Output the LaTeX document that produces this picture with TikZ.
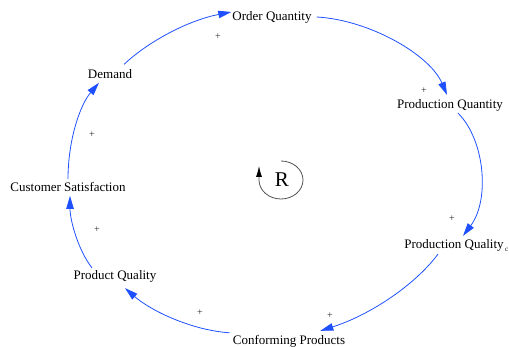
\documentclass[tikz,border=0pt]{standalone}
\usepackage{fontspec}
\setmainfont{Liberation Serif}
\usetikzlibrary{arrows.meta}
\definecolor{flowblue}{RGB}{30,80,255}
\definecolor{loopgray}{RGB}{80,80,80}
\begin{document}
\begin{tikzpicture}[x=1pt,y=-1pt,
  lab/.style={font=\fontsize{13}{15}\selectfont, inner sep=0pt},
  pl/.style={font=\fontsize{10}{11}\selectfont, inner sep=0pt, text=black!85},
  flow/.style={draw=flowblue, line width=0.8pt, -{Triangle[length=13pt,width=7.5pt]}},
  loop/.style={draw=loopgray, line width=0.8pt, -{Latex[length=11pt,width=6pt,black]}}
]
\path[use as bounding box] (0,0) rectangle (509,347);

% variables
\node[lab] (oq)  at (272,17)  {Order Quantity};
\node[lab] (pq)  at (450,105) {Production Quantity};
\node[lab] (pql) at (454,245) {Production Quality};
\node[font=\fontsize{7}{8}\selectfont, inner sep=0pt, anchor=west] (sub) at ([xshift=1pt,yshift=-5pt]pql.east) {c};
\node[lab] (cp)  at (289,341) {Conforming Products};
\node[lab] (prq) at (115,276) {Product Quality};
\node[lab] (cs)  at (68,187)  {Customer Satisfaction};
\node[lab] (dm)  at (110,74)  {Demand};
\node[font=\fontsize{21}{23}\selectfont, inner sep=0pt] (r) at (282,180) {R};

% polarities
\node[pl] (p1) at (218,37)  {+};
\node[pl] (p2) at (424,91)  {+};
\node[pl] (p3) at (452,219) {+};
\node[pl] (p4) at (330,316) {+};
\node[pl] (p5) at (200,313) {+};
\node[pl] (p6) at (97,230)  {+};
\node[pl] (p7) at (92,135)  {+};

% links
\draw[flow] ([xshift=5pt]oq.east) .. controls (370,20) and (430,55) .. ([xshift=-3pt,yshift=4pt]pq.north);
\draw[flow] ([xshift=8pt,yshift=-2pt]pq.south) .. controls (485,140) and (490,200) .. ([xshift=9pt,yshift=3pt]pql.north);
\draw[flow] ([xshift=-16pt,yshift=-3pt]pql.south) .. controls (415,285) and (370,315) .. ([xshift=-25pt,yshift=4pt]cp.north east);
\draw[flow] ([xshift=-3pt,yshift=2pt]cp.north west) .. controls (190,330) and (150,310) .. ([xshift=10pt,yshift=-6pt]prq.south);
\draw[flow] ([xshift=-23pt,yshift=2pt]prq.north) .. controls (78,250) and (70,220) .. ([xshift=2pt,yshift=-4pt]cs.south);
\draw[flow] ([yshift=3pt]cs.north) .. controls (68,140) and (80,105) .. ([xshift=-11pt,yshift=-4pt]dm.south);
\draw[flow] ([xshift=-8pt,yshift=5pt]dm.north east) .. controls (150,40) and (190,20) .. ([xshift=-1pt,yshift=5pt]oq.west);

% loop marker
\draw[loop] ([yshift=19pt,xshift=-1pt]r.center) arc[start angle=90, end angle=-180, x radius=22pt, y radius=19pt] -- ++(0,-14);
\end{tikzpicture}
\end{document}
